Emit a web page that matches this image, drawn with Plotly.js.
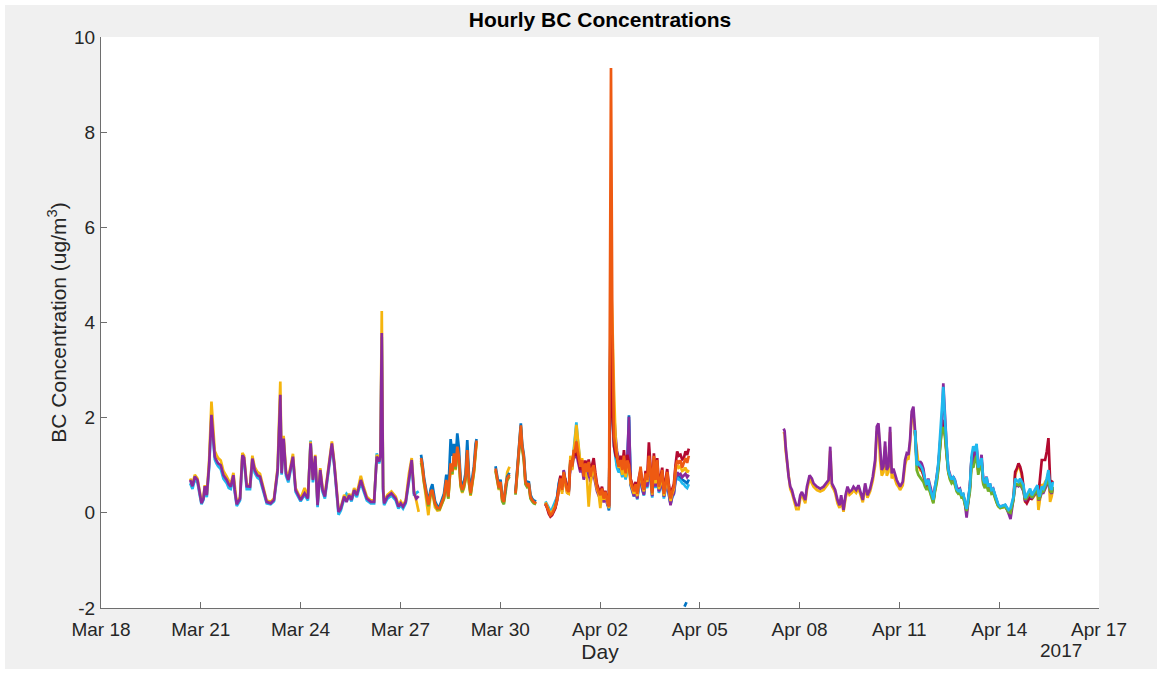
<!DOCTYPE html>
<html>
<head>
<meta charset="utf-8">
<script src="https://cdn.plot.ly/plotly-3.0.1.min.js"></script>
<style>
  html, body { margin: 0; padding: 0; background: #ffffff; }
  #chart { position: absolute; left: 5px; top: 5px; width: 1152px; height: 664px; }
</style>
</head>
<body>
<div id="chart"></div>
<script>
// Time is given in days after 2017-03-18 00:00; values in ug/m^3.
// ---- Segment A: Mar 20 - Mar 27 (purple on top)
const tA = [2.68,2.75,2.82,2.90,2.96,3.02,3.08,3.12,3.18,3.25,
  3.32,3.37,3.42,3.47,3.52,3.60,3.68,3.78,3.84,3.90,
  3.98,4.02,4.08,4.18,4.25,4.30,4.38,4.48,4.55,4.62,
  4.70,4.78,4.88,4.98,5.10,5.20,5.31,5.39,5.43,5.49,
  5.56,5.63,5.69,5.77,5.85,6.00,6.12,6.22,6.30,6.37,
  6.44,6.51,6.59,6.66,6.73,6.86,6.94,7.01,7.09,7.14,
  7.21,7.31,7.38,7.46,7.53,7.61,7.69,7.81,7.89,7.99,
  8.11,8.21,8.29,8.36,8.40,8.44,8.48,8.51,8.61,8.73,
  8.86,8.94,9.01,9.08,9.16,9.26,9.34,9.41,9.48,9.55];
const purpleA = [.69,.56,.76,.69,.45,.20,.30,.56,.37,1.00,
  2.06,1.60,1.18,1.10,1.04,1.00,.79,.69,.60,.55,
  .79,.48,.18,.30,1.21,1.16,.56,.55,1.14,.90,
  .79,.76,.51,.23,.20,.27,.90,2.48,.83,1.56,
  .83,.69,.90,1.18,.48,.27,.41,.30,1.46,.69,
  1.19,.16,.90,.48,.34,.97,1.46,1.04,.34,.02,
  .09,.34,.23,.37,.27,.48,.37,.69,.51,.30,
  .23,.23,1.18,1.08,1.20,3.78,.50,.20,.34,.41,
  .30,.13,.20,.13,.23,.76,1.11,.41,.30,.35];
const yellowA = [.72,.60,.80,.72,.48,.24,.33,.58,.40,1.10,
  2.34,1.85,1.30,1.22,1.15,1.10,.88,.76,.66,.60,
  .84,.52,.20,.33,1.26,1.20,.60,.58,1.20,.96,
  .86,.82,.55,.26,.23,.30,.95,2.76,.90,1.62,
  .88,.74,.95,1.24,.52,.30,.52,.34,1.50,.72,
  1.22,.20,.94,.52,.38,1.02,1.50,1.08,.38,.06,
  .12,.38,.26,.40,.30,.52,.40,.78,.56,.34,
  .26,.26,1.22,1.12,1.25,4.24,.55,.24,.38,.45,
  .34,.16,.24,.16,.26,.84,1.15,.45,.25,.02];
const cyanA = [.62,.50,.70,.64,.40,.18,.27,.52,.33,.95,
  2.00,1.55,1.12,1.04,.98,.92,.72,.62,.52,.50,
  .74,.44,.14,.26,1.16,1.10,.50,.50,1.08,.84,
  .74,.70,.46,.20,.18,.24,.85,2.40,.80,1.50,
  .78,.64,.86,1.12,.44,.24,.38,.26,1.52,.64,
  1.14,.12,.86,.44,.30,.92,1.40,1.00,.30,-.04,
  .05,.30,.40,.33,.24,.44,.33,.64,.46,.26,
  .20,.20,1.25,1.04,1.15,3.70,.45,.16,.30,.36,
  .26,.09,.16,.09,.20,.72,1.05,.36,.42,.45];

// ---- Segment B: Mar 27.6 - Mar 29.3 (orange on top)
const tB = [9.62,9.66,9.71,9.78,9.84,9.91,9.96,10.04,10.11,10.18,
  10.26,10.31,10.38,10.44,10.51,10.56,10.61,10.66,10.71,10.76,
  10.81,10.86,10.91,10.96,11.01,11.06,11.11,11.16,11.21,11.26,11.29];
const orangeB = [1.15,1.00,.69,.41,.17,.44,.48,.20,.10,.10,
  .27,.34,.69,.34,1.04,.87,1.25,.97,1.39,1.18,
  .62,.48,.58,.76,1.32,.69,.41,.62,.90,1.32,1.52];
const blueB = [1.22,1.05,.74,.45,.22,.50,.60,.25,.14,.14,
  .32,.40,.80,.42,1.55,1.20,1.45,1.10,1.67,1.35,
  .70,.55,.65,.84,1.53,.78,.48,.70,.98,1.45,1.55];
const yellowB = [1.10,.90,.60,.30,-.05,.38,.45,.12,.05,.06,
  .22,.30,.62,.30,.98,.80,1.18,.90,1.30,1.10,
  .55,.42,.52,.70,1.25,.62,.36,.56,.84,1.25,1.48];
const greenB = [1.05,.95,.64,.38,.14,.40,.45,.18,.08,.08,
  .24,.30,.64,.30,1.00,.82,1.20,.92,1.34,1.12,
  .58,.44,.54,.72,1.28,.64,.38,.58,.86,1.28,1.50];

// ---- Segment C1: Mar 29.9 - Mar 30.3
const tC1 = [11.86,11.91,11.96,12.01,12.06,12.11,12.16,12.21,12.28];
const orangeC1 = [.93,.76,.52,.65,.30,.23,.55,.72,.80];
const yellowC1 = [.90,.70,.48,.60,.26,.20,.60,.85,.97];
const blueC1 = [.98,.80,.56,.70,.34,.26,.58,.76,.84];
const greenC1 = [.88,.72,.50,.62,.24,.18,.50,.68,.76];

// ---- Segment C2: Mar 30.5 - Mar 31.1
const tC2 = [12.46,12.54,12.62,12.66,12.71,12.76,12.81,12.86,12.91,12.96,13.01,13.08];
const orangeC2 = [.41,1.11,1.84,1.40,1.18,.65,.58,.62,.34,.27,.23,.20];
const blueC2 = [.45,1.18,1.88,1.45,1.22,.70,.62,.66,.38,.30,.26,.24];
const greenC2 = [.38,1.05,1.75,1.35,1.10,.60,.54,.56,.30,.24,.20,.18];
const yellowC2 = [.40,1.08,1.80,1.38,1.15,.62,.56,.60,.32,.26,.22,.20];

// ---- Segment C: Mar 31.4 - Apr 4.7 (with the Apr 2 spike)
const tC = [13.36,13.41,13.46,13.51,13.56,13.61,13.66,13.71,13.76,13.81,
  13.86,13.91,13.96,14.01,14.06,14.11,14.16,14.21,14.25,14.29,
  14.33,14.37,14.41,14.46,14.51,14.56,14.61,14.66,14.71,14.76,
  14.81,14.86,14.91,14.96,15.01,15.06,15.11,15.16,15.21,15.27,
  15.33,15.37,15.42,15.47,15.51,15.56,15.62,15.67,15.72,15.77,
  15.82,15.87,15.92,15.97,16.02,16.07,16.12,16.17,16.22,16.27,
  16.32,16.37,16.42,16.47,16.52,16.57,16.62,16.67,16.72,16.77,
  16.82,16.87,16.92,16.97,17.02,17.07,17.12,17.17,17.22,17.27,
  17.32,17.37,17.42,17.47,17.52,17.57,17.62,17.67];
const orangeC = [.20,.13,.03,-.05,-.02,.06,.13,.27,.55,.72,
  .48,.86,.65,.48,.44,1.11,.97,1.32,1.30,1.50,
  1.30,1.10,.97,1.11,.76,1.04,.86,1.07,.76,.93,
  1.00,.79,.55,.44,.37,.51,.30,.44,.27,.13,
  9.35,4.00,1.60,1.30,1.18,.97,1.11,.90,1.20,.83,
  1.10,1.00,.69,.55,.45,.60,.40,.70,.97,.62,
  .48,.83,.69,1.20,.93,.41,1.20,.69,1.11,.55,
  .69,.90,.40,.60,.86,.55,.30,.45,.55,.95,
  1.10,1.05,1.10,.95,1.05,1.15,1.05,1.20];
const redC = [.18,.10,-.02,-.08,-.05,.02,.10,.30,.60,.78,
  .55,.80,.70,.52,.48,1.05,1.00,1.25,1.20,1.35,
  1.20,1.05,.90,1.10,.85,1.10,.95,1.12,.90,1.00,
  1.15,.85,.60,.50,.45,.55,.35,.46,.30,.15,
  3.80,2.20,1.40,1.20,1.15,1.00,1.20,.95,1.32,.90,
  1.22,1.05,.72,.60,.50,.65,.45,.75,.90,.66,
  .52,.88,.75,1.48,1.00,.45,1.25,.75,1.15,.60,
  .75,.95,.45,.65,.92,.60,.35,.50,.60,1.00,
  1.29,1.20,1.22,1.12,1.15,1.29,1.22,1.35];
const yellowC = [.22,.15,.06,-.02,.02,.10,.16,.30,.50,.65,
  .40,.78,.60,.42,.40,1.20,.90,1.35,1.55,1.85,
  1.60,1.30,1.05,1.15,.95,.85,.70,.13,.60,.85,
  .90,.70,.50,.40,.10,.45,.28,.40,.25,.10,
  4.90,4.10,2.60,1.50,1.20,.95,1.00,.80,1.05,.75,
  .95,.95,.62,.50,.40,.55,.35,.65,.85,.58,
  .45,.78,.65,1.10,.85,.38,1.10,.62,1.00,.50,
  .62,.82,.36,.55,.80,.50,.25,.40,.50,.88,
  1.00,.95,.98,.88,.90,.95,.85,.90];
const purpleC = [.18,.12,.02,-.04,.00,.06,.12,.25,.50,.66,
  .44,.90,.62,.44,.40,1.00,.92,1.20,1.15,1.30,
  1.10,.95,.85,.95,.70,.80,.75,.85,.65,.78,
  .80,.62,.45,.36,.30,.40,.22,.35,.20,.10,
  5.10,2.60,2.00,1.60,1.30,1.10,.95,.85,1.00,.80,
  1.05,2.02,.60,.48,.35,.50,.30,.60,.70,.50,
  .38,.70,.55,.95,.75,.35,.95,.55,.85,.45,
  .55,.70,.34,.50,.70,.40,.16,.35,.40,.70,
  .85,.80,.82,.75,.78,.82,.75,.80];
const cyanC = [.24,.18,.10,.04,.08,.16,.22,.34,.58,.70,
  .50,.84,.66,.50,.46,1.08,.95,1.30,1.60,1.90,
  1.55,1.20,1.00,1.05,.80,.95,.85,.95,.72,.88,
  .95,.72,.52,.42,.34,.48,.30,.42,.25,.08,
  4.70,2.00,1.40,1.20,.95,.85,.90,.75,.95,.70,
  .90,1.95,.58,.45,.34,.50,.28,.58,.68,.48,
  .36,.66,.52,.90,.70,.32,.92,.52,.82,.42,
  .52,.66,.30,.46,.66,.38,.18,.32,.40,.65,
  .75,.70,.68,.62,.60,.55,.52,.60];
const blueC = [.20,.14,.06,.00,.04,.12,.18,.32,.62,.75,
  .52,.88,.68,.50,.46,1.10,.98,1.28,1.40,1.60,
  1.35,1.15,.95,1.00,.78,.90,.82,.90,.70,.85,
  .90,.75,.50,.40,.35,.46,.26,.38,.22,.05,
  5.30,2.30,1.50,1.20,1.00,.90,.95,.80,1.00,.72,
  .95,2.05,.62,.50,.38,.52,.32,.62,.72,.52,
  .40,.72,.58,1.00,.78,.36,1.00,.58,.90,.46,
  .58,.72,.34,.50,.72,.42,.20,.36,.44,.72,
  .80,.75,.74,.70,.68,.65,.62,.70];

// ---- Stray blue reading near Apr 4.6
const tG = [17.54,17.60];
const blueG = [-1.97,-1.88];

// ---- Segment D: Apr 7.5 - Apr 12.5 (purple on top)
const tD = [20.52,20.55,20.58,20.62,20.67,20.72,20.77,20.82,20.90,20.97,
  21.02,21.07,21.12,21.17,21.22,21.30,21.37,21.42,21.52,21.62,
  21.72,21.80,21.87,21.92,21.97,22.02,22.07,22.14,22.20,22.25,
  22.32,22.38,22.44,22.50,22.57,22.62,22.70,22.77,22.84,22.90,
  22.97,23.04,23.12,23.20,23.27,23.32,23.37,23.42,23.47,23.52,
  23.57,23.62,23.67,23.72,23.77,23.82,23.87,23.92,23.97,24.02,
  24.10,24.17,24.22,24.27,24.32,24.37,24.42,24.47];
const purpleD = [1.77,1.72,1.40,1.11,.76,.55,.48,.34,.16,.16,
  .37,.44,.34,.27,.55,.79,.72,.62,.55,.51,
  .55,.62,.69,1.39,.62,.55,.48,.27,.16,.37,
  .06,.37,.55,.44,.48,.55,.48,.58,.41,.27,
  .62,.37,.51,.76,1.11,1.81,1.88,1.25,.90,.97,
  1.50,.90,.97,1.81,.83,.93,.79,.69,.62,.55,
  .65,1.11,1.25,1.22,1.53,2.13,2.23,1.74];
const yellowD = [1.70,1.65,1.32,1.05,.70,.50,.42,.28,.08,.08,
  .30,.38,.28,.20,.48,.72,.62,.55,.48,.45,
  .48,.56,.62,1.30,.56,.50,.42,.20,.10,.30,
  .02,.30,.48,.38,.42,.48,.42,.52,.35,.22,
  .55,.32,.45,.68,1.00,1.70,1.80,1.10,.78,.85,
  1.40,.78,.86,1.70,.72,.82,.70,.60,.55,.48,
  .58,1.00,1.15,1.12,1.45,2.05,2.10,1.65];

// ---- Segment E: Apr 12.5 - Apr 15.6 (cyan on top)
const tE = [24.47,24.52,24.57,24.62,24.67,24.72,24.77,24.82,24.87,24.92,
  24.97,25.02,25.07,25.12,25.17,25.22,25.27,25.32,25.37,25.42,
  25.47,25.52,25.57,25.62,25.67,25.72,25.77,25.82,25.87,25.92,
  25.97,26.02,26.07,26.12,26.17,26.22,26.27,26.32,26.37,26.42,
  26.47,26.52,26.57,26.62,26.67,26.72,26.77,26.82,26.87,26.92,
  26.97,27.03,27.12,27.18,27.28,27.34,27.43,27.48,27.53,27.58,
  27.63,27.68,27.73,27.78,27.83,27.93,27.98,28.08,28.15,28.18,
  28.21,28.28,28.33,28.38,28.43,28.48,28.53,28.58,28.61];
const cyanE = [1.74,1.00,1.05,1.00,.95,.85,.70,.58,.70,.50,
  .40,.28,.55,.75,1.05,1.55,2.00,2.65,1.95,1.30,
  .90,.78,.70,.75,.68,.50,.46,.48,.38,.40,
  .20,.08,.30,.58,1.20,1.40,1.30,1.45,.95,1.05,
  1.15,.70,.62,.75,.55,.62,.48,.50,.38,.28,
  .18,.13,.15,.17,.06,.10,.34,.72,.68,.65,
  .72,.65,.58,.31,.37,.51,.37,.48,.58,.40,
  .34,.55,.51,.60,.72,.90,.55,.48,.65];
const greenE = [1.70,.90,.80,.75,.72,.65,.55,.48,.55,.42,
  .32,.20,.45,.62,.90,1.40,1.75,1.80,1.60,1.20,
  .85,.70,.62,.66,.58,.45,.40,.42,.32,.32,
  .15,.04,.22,.45,1.00,.95,1.10,1.20,.80,.95,
  1.10,.60,.52,.62,.45,.52,.40,.42,.30,.22,
  .14,.10,.12,.13,.02,.00,.28,.62,.60,.58,
  .62,.55,.48,.28,.32,.45,.32,.42,.50,.30,
  .30,.45,.45,.55,.62,.75,.48,.42,.55];
const purpleE = [1.74,1.11,.97,1.08,1.04,.93,.69,.62,.72,.58,
  .44,.23,.55,.69,.97,1.39,1.74,2.72,1.88,1.39,
  .93,.79,.69,.76,.69,.55,.48,.51,.37,.37,
  .20,-.10,.27,.55,1.18,.97,1.25,1.39,.90,1.00,
  1.22,.69,.62,.76,.55,.62,.48,.51,.37,.27,
  .16,.13,.15,.16,-.01,-.13,.30,.55,.58,.56,
  .60,.52,.45,.25,.30,.42,.30,.40,.48,.28,
  .28,.42,.42,.50,.58,.70,.45,.40,.52];
const redE = [1.72,1.05,1.00,.95,.90,.80,.65,.55,.65,.48,
  .38,.25,.50,.70,1.00,1.45,1.85,1.95,1.70,1.25,
  .88,.75,.68,.72,.65,.50,.45,.46,.36,.38,
  .18,.05,.28,.55,1.15,1.05,1.38,1.35,.90,1.00,
  1.10,.65,.58,.70,.50,.58,.45,.48,.35,.25,
  .16,.12,.14,.15,.04,.02,.32,.86,.93,1.04,
  .97,.83,.55,.25,.20,.34,.30,.41,.42,.44,
  .60,1.11,1.11,1.11,1.29,1.57,.69,.65,.68];
const yellowE = [1.65,1.30,1.05,.90,.88,.80,.62,.55,.60,.45,
  .35,.22,.48,.65,.95,1.45,1.80,1.85,1.65,1.25,
  .85,.72,.65,.70,.62,.48,.42,.44,.33,.35,
  .16,.02,.25,.50,1.10,1.00,1.20,1.25,.85,.95,
  1.05,.62,.55,.68,.48,.55,.42,.45,.32,.22,
  .14,.10,.12,.14,.02,.00,.30,.80,.90,1.00,
  .92,.78,.50,.24,.25,.40,.28,.38,.40,.06,
  .20,.60,.55,.65,.70,.85,.23,.35,.50];

// Axis tick labels
const yTicks = [-2, 0, 2, 4, 6, 8, 10];

// ---- Styling
const BL = '#0074C4', OR = '#EE5A12', YE = '#F5B50E', PU = '#8A2A9C',
      GR = '#72B02A', CY = '#1FB8EE', RE = '#B2092F';
const LW = 2.7;
const DAY = 86400000;
const T0 = Date.UTC(2017, 2, 18);
const ms = d => T0 + d * DAY;
const FONT = '"Liberation Sans", Arial, Helvetica, sans-serif';

function seg(t, v, color) {
  return { type: 'scatter', mode: 'lines', x: t.map(ms), y: v,
           line: { color: color, width: LW }, hoverinfo: 'skip', showlegend: false };
}

const data = [
  seg(tA, cyanA, CY), seg(tA, yellowA, YE), seg(tA, purpleA, PU),
  seg(tB, yellowB, YE), seg(tB, greenB, GR), seg(tB, blueB, BL), seg(tB, orangeB, OR),
  seg(tC1, yellowC1, YE), seg(tC1, greenC1, GR), seg(tC1, blueC1, BL), seg(tC1, orangeC1, OR),
  seg(tC2, yellowC2, YE), seg(tC2, greenC2, GR), seg(tC2, blueC2, BL), seg(tC2, orangeC2, OR),
  seg(tC, blueC, BL), seg(tC, cyanC, CY), seg(tC, purpleC, PU), seg(tC, yellowC, YE),
  seg(tC, redC, RE), seg(tC, orangeC, OR),
  seg(tG, blueG, BL),
  seg(tD, yellowD, YE), seg(tD, purpleD, PU),
  seg(tE, yellowE, YE), seg(tE, redE, RE), seg(tE, purpleE, PU), seg(tE, greenE, GR), seg(tE, cyanE, CY)
];

const W = 1152, H = 664;
const M = { l: 96, r: 58, t: 32, b: 61 };
const axisColor = '#6e6e6e';
const textColor = '#262626';

const layout = {
  width: W, height: H,
  margin: M,
  paper_bgcolor: '#f0f0f0',
  plot_bgcolor: '#ffffff',
  font: { family: FONT, color: textColor },
  showlegend: false,
  title: {
    text: 'Hourly BC Concentrations',
    font: { family: FONT, size: 21, weight: 'bold', color: '#000000' },
    x: 0.5, xref: 'paper', xanchor: 'center',
    y: 1 - 15 / H, yref: 'container', yanchor: 'middle'
  },
  xaxis: {
    type: 'date',
    range: [ms(0), ms(30)],
    tick0: ms(0), dtick: 3 * DAY, tickformat: '%b %d',
    ticks: 'inside', ticklen: 6, tickwidth: 1, tickcolor: axisColor,
    showline: true, linecolor: axisColor, linewidth: 1, mirror: false,
    showgrid: false, zeroline: false, automargin: false, fixedrange: true,
    tickfont: { family: FONT, size: 19, color: textColor },
    ticklabelstandoff: 4,
    title: { text: 'Day', font: { family: FONT, size: 21, color: textColor }, standoff: 5 }
  },
  yaxis: {
    range: [-2, 10],
    tickmode: 'array', tickvals: yTicks, ticktext: yTicks.map(String),
    ticks: 'inside', ticklen: 6, tickwidth: 1, tickcolor: axisColor,
    showline: true, linecolor: axisColor, linewidth: 1, mirror: false,
    showgrid: false, zeroline: false, automargin: false, fixedrange: true,
    tickfont: { family: FONT, size: 19, color: textColor },
    ticklabelstandoff: 1,
    title: { text: 'BC Concentration (ug/m<sup>3</sup>)', font: { family: FONT, size: 21, color: textColor }, standoff: 1 }
  },
  annotations: [{
    text: '2017', xref: 'paper', yref: 'paper',
    x: (1056 - M.l) / (W - M.l - M.r), y: -(646 - (H - M.b)) / (H - M.t - M.b),
    xanchor: 'center', yanchor: 'middle', showarrow: false,
    font: { family: FONT, size: 19, color: textColor }
  }]
};

Plotly.newPlot('chart', data, layout, { displayModeBar: false, staticPlot: true });
</script>
</body>
</html>
